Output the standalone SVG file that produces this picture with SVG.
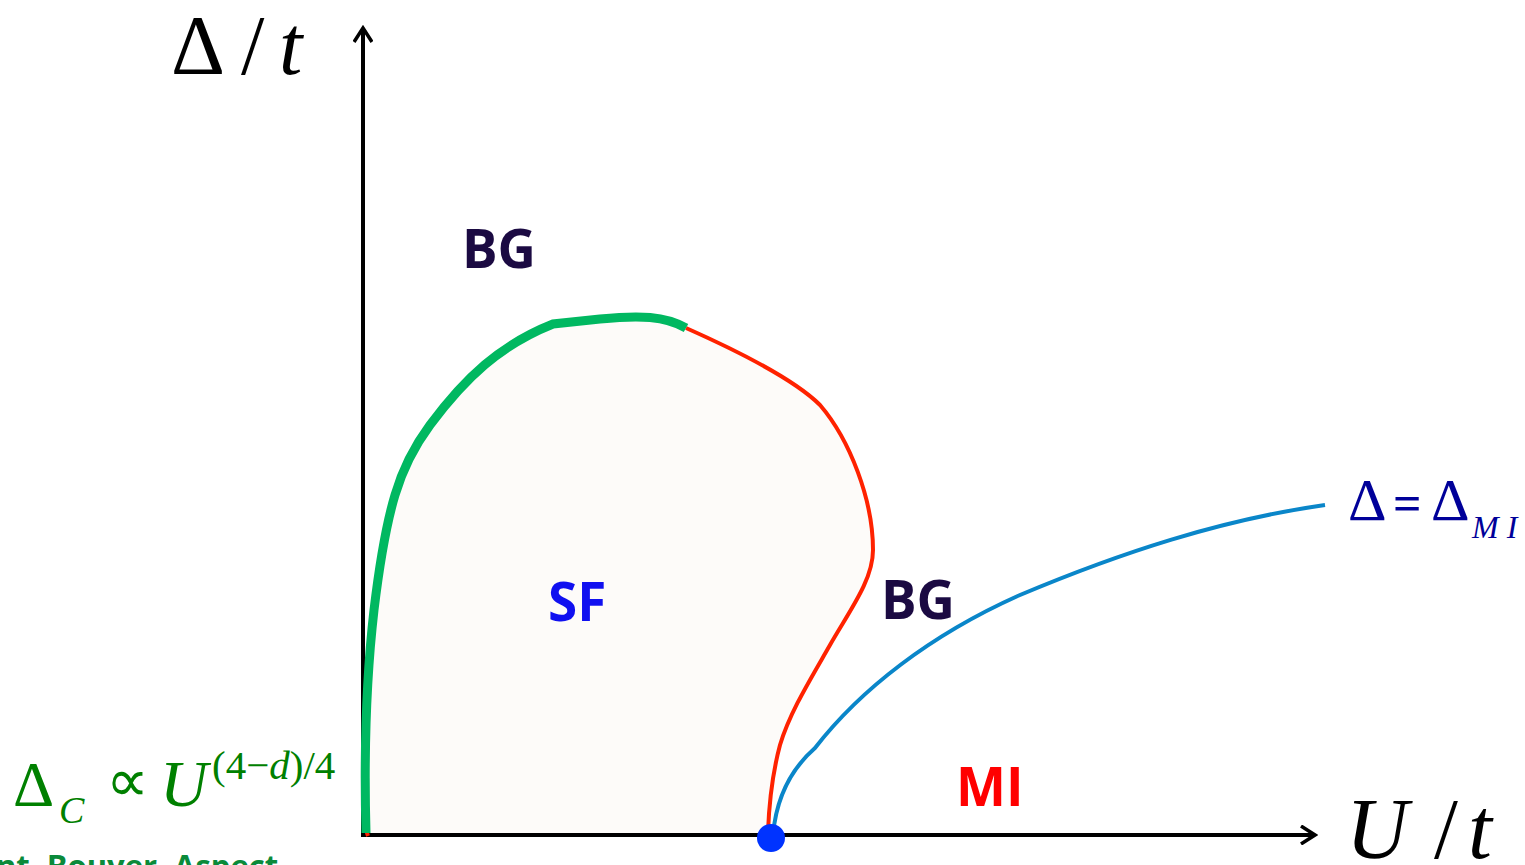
<svg xmlns="http://www.w3.org/2000/svg" width="1525" height="865" viewBox="0 0 1525 865">
<style>
.ser{font-family:"Liberation Serif","Times New Roman",serif}
.lab{font-family:"Open Sans","Noto Sans",sans-serif;font-weight:bold;font-size:53px}
.ax{stroke:#000;stroke-width:4;fill:none}
</style>
<defs>
<marker id="arr" viewBox="0 0 20 20" refX="17" refY="10" markerWidth="20" markerHeight="20" markerUnits="userSpaceOnUse" orient="auto">
<path d="M3,1 L17,10 L3,19" fill="none" stroke="#000" stroke-width="3.5"/>
</marker>
</defs>
<rect width="1525" height="865" fill="#fff"/>
<g id="sf-region">
<path d="M366,835 L366,833 C364,760 366,680 374,610 C380,560 386,525 395,495 C403,468 413,448 430,425 C465,378 500,345 553,324 L600,319 C640,315 665,316 686,328 C740,352 795,380 820,405 C850,440 873,500 873,550 C873,580 850,610 830,645 C810,680 790,712 780,745 C772,775 769,805 768,835 Z" fill="#fdfbf9"/>
</g>
<g id="connectors">
<line x1="363" y1="835" x2="363" y2="28" class="ax" marker-end="url(#arr)"/>
<line x1="361" y1="835" x2="1315" y2="835" class="ax" marker-end="url(#arr)"/>
<path d="M368,836 L367,833 C365,760 367,680 375,610 C381,560 387,525 396,495 C404,468 414,448 431,425" fill="none" stroke="#ff2200" stroke-width="4"/>
<path d="M686,328 C740,352 795,380 820,405 C850,440 873,500 873,550 C873,580 850,610 830,645 C810,680 790,712 780,745 C772,775 769,805 768,832" fill="none" stroke="#ff2200" stroke-width="4"/>
<path d="M366,833 C364,760 366,680 374,610 C380,560 386,525 395,495 C403,468 413,448 430,425 C465,378 500,345 553,324 L600,319 C640,315 665,316 686,328" fill="none" stroke="#00b861" stroke-width="9"/>
<path d="M773,835 C776,800 790,770 815,748 C860,690 930,635 1020,595 C1120,553 1220,520 1325,505" fill="none" stroke="#0a86c9" stroke-width="4"/>
</g>
<g id="critical-point">
<circle cx="771" cy="838" r="14" fill="#0033ff"/>
</g>
<g id="axis-labels">
<text class="ser" x="171" y="74" font-size="84">Δ</text>
<text class="ser" x="241" y="74" font-size="84">/</text>
<text class="ser" x="279" y="74" font-size="84" font-style="italic">t</text>
<text class="ser" x="1346" y="858" font-size="86" font-style="italic">U</text>
<text class="ser" x="1434" y="858" font-size="86">/</text>
<text class="ser" x="1468" y="858" font-size="86" font-style="italic">t</text>
</g>
<g id="label-bg-top"><text class="lab" x="462" y="268" fill="#1b0a42">BG</text></g>
<g id="label-bg-right"><text class="lab" x="881" y="619" fill="#1b0a42">BG</text></g>
<g id="label-sf"><text class="lab" x="548" y="621" fill="#1010f0">SF</text></g>
<g id="label-mi"><text class="lab" x="956" y="806" fill="#ff0000">MI</text></g>
<g id="label-delta-mi" fill="#000099">
<text class="ser" x="1348" y="520" font-size="60">Δ</text>
<text class="ser" x="1393" y="520" font-size="50" font-weight="bold">=</text>
<text class="ser" x="1431" y="520" font-size="60">Δ</text>
<text class="ser" x="1472" y="538" font-size="32" font-style="italic">M I</text>
</g>
<g id="label-delta-c" fill="#008000">
<text class="ser" x="13" y="806" font-size="64">Δ</text>
<text class="ser" x="59" y="823" font-size="38" font-style="italic">C</text>
<text class="ser" x="106" y="801" font-size="60">∝</text>
<text class="ser" x="160" y="806" font-size="66" font-style="italic">U</text>
<text class="ser" x="212" y="779" font-size="41">(4−<tspan font-style="italic">d</tspan>)/4</text>
</g>
<g id="citation">
<text x="-4" y="877" font-family="Open Sans, Noto Sans, sans-serif" font-weight="bold" font-size="31" fill="#0a8a3a">nt, Bouyer, Aspect</text>
</g>
</svg>
